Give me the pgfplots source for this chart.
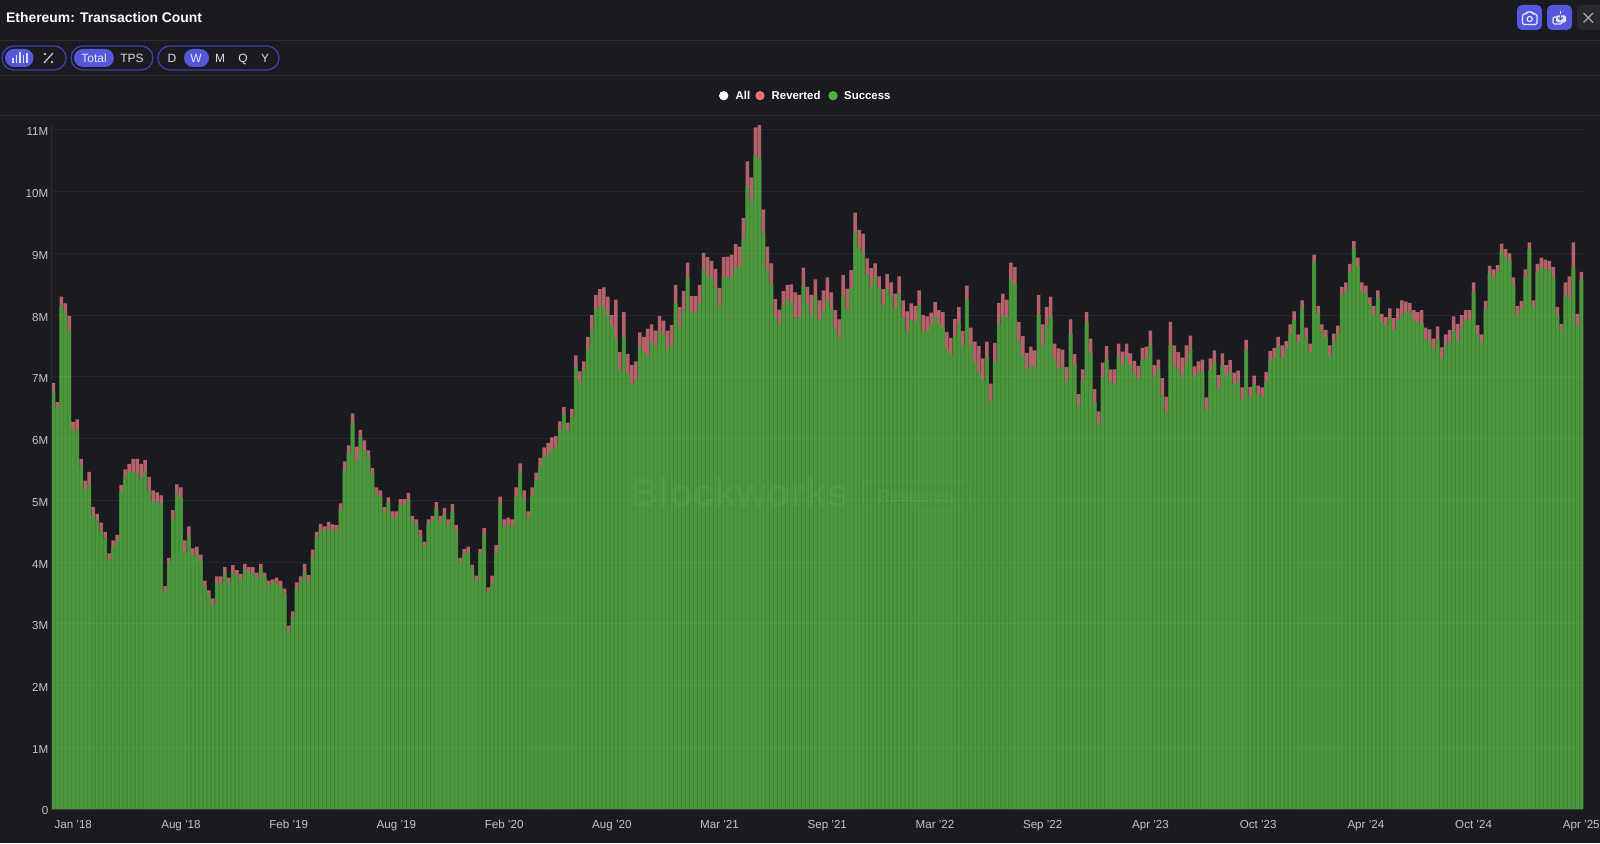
\documentclass[border=0pt]{standalone}
\usepackage{pgfplots}
\usepackage{pgfplotstable}
\usepackage{fontspec}
\setmainfont{Liberation Sans}
\pgfplotsset{compat=1.18}
\definecolor{bg}{HTML}{1A1B20}
\definecolor{rule}{HTML}{2B2C31}
\definecolor{barg}{HTML}{4A973C}
\definecolor{bargd}{HTML}{3E8033}
\definecolor{barr}{HTML}{B5616A}
\definecolor{lbl}{HTML}{C4C4C8}
\definecolor{accent}{HTML}{5558DD}
\definecolor{pillb}{HTML}{3F41A6}
\definecolor{legr}{HTML}{E87070}
\definecolor{legg}{HTML}{52B043}
\pgfplotstableread{
i total success
1 6.90 6.77
2 6.59 6.50
3 8.30 8.15
4 8.19 8.03
5 7.99 7.75
6 6.27 6.14
7 6.31 6.13
8 5.67 5.56
9 5.32 5.17
10 5.46 5.26
11 4.89 4.75
12 4.78 4.67
13 4.64 4.50
14 4.49 4.38
15 4.14 4.03
16 4.35 4.25
17 4.44 4.34
18 5.25 5.14
19 5.50 5.37
20 5.59 5.46
21 5.67 5.46
22 5.67 5.44
23 5.59 5.37
24 5.65 5.46
25 5.38 5.16
26 5.16 4.97
27 5.13 4.97
28 5.08 4.95
29 3.61 3.53
30 4.07 3.99
31 4.84 4.69
32 5.26 5.11
33 5.21 5.04
34 4.35 4.16
35 4.58 4.40
36 4.22 4.11
37 4.25 4.13
38 4.12 4.01
39 3.70 3.60
40 3.54 3.46
41 3.41 3.31
42 3.77 3.66
43 3.77 3.65
44 3.92 3.81
45 3.75 3.66
46 3.95 3.83
47 3.87 3.78
48 3.81 3.72
49 3.97 3.88
50 3.92 3.81
51 3.92 3.82
52 3.83 3.74
53 3.97 3.88
54 3.83 3.75
55 3.70 3.62
56 3.72 3.66
57 3.75 3.67
58 3.70 3.59
59 3.57 3.49
60 2.97 2.87
61 3.20 3.11
62 3.67 3.56
63 3.77 3.68
64 3.97 3.84
65 3.79 3.68
66 4.20 4.08
67 4.49 4.40
68 4.62 4.52
69 4.58 4.49
70 4.65 4.56
71 4.61 4.51
72 4.60 4.51
73 4.95 4.84
74 5.63 5.49
75 5.89 5.76
76 6.41 6.26
77 5.87 5.63
78 6.14 6.03
79 5.97 5.81
80 5.81 5.71
81 5.52 5.44
82 5.21 5.11
83 5.16 5.07
84 4.89 4.80
85 5.05 4.97
86 4.82 4.73
87 4.82 4.73
88 5.02 4.92
89 5.02 4.92
90 5.12 5.01
91 4.75 4.67
92 4.69 4.60
93 4.52 4.41
94 4.33 4.24
95 4.69 4.62
96 4.75 4.67
97 4.97 4.87
98 4.75 4.67
99 4.88 4.76
100 4.69 4.60
101 4.94 4.82
102 4.60 4.51
103 4.07 3.99
104 4.21 4.14
105 4.25 4.15
106 3.96 3.91
107 3.78 3.70
108 4.21 4.14
109 4.55 4.45
110 3.59 3.52
111 3.78 3.66
112 4.28 4.15
113 5.06 4.95
114 4.69 4.58
115 4.72 4.60
116 4.69 4.58
117 5.21 5.06
118 5.60 5.46
119 5.16 5.02
120 4.82 4.72
121 5.21 5.08
122 5.45 5.32
123 5.69 5.56
124 5.86 5.71
125 5.93 5.74
126 6.02 5.83
127 6.04 5.87
128 6.28 6.14
129 6.51 6.40
130 6.26 6.13
131 6.48 6.35
132 7.35 7.16
133 7.09 6.92
134 7.25 7.10
135 7.65 7.45
136 8.00 7.75
137 8.33 8.08
138 8.42 8.15
139 8.45 8.12
140 8.30 8.00
141 8.00 7.82
142 8.25 7.62
143 7.40 7.10
144 8.05 7.65
145 7.37 7.06
146 7.19 6.89
147 7.25 6.94
148 7.72 7.48
149 7.65 7.40
150 7.78 7.33
151 7.85 7.58
152 7.75 7.49
153 7.99 7.73
154 7.91 7.68
155 7.75 7.45
156 7.84 7.52
157 8.49 8.19
158 8.13 7.82
159 8.39 8.09
160 8.85 8.60
161 8.31 8.05
162 8.31 8.03
163 8.49 8.20
164 9.01 8.74
165 8.94 8.64
166 8.88 8.61
167 8.75 8.45
168 8.44 8.14
169 8.94 8.61
170 8.95 8.61
171 8.98 8.61
172 9.15 8.78
173 9.11 8.78
174 9.57 9.24
175 10.49 10.09
176 10.23 9.85
177 11.04 10.59
178 11.08 10.54
179 9.71 9.32
180 9.11 8.75
181 8.84 8.49
182 8.26 7.97
183 8.09 7.86
184 8.39 8.16
185 8.49 8.25
186 8.50 8.21
187 8.37 7.96
188 8.33 7.96
189 8.77 8.47
190 8.46 8.19
191 8.33 8.00
192 8.58 8.31
193 8.24 7.92
194 8.40 8.05
195 8.61 8.25
196 8.37 8.11
197 8.08 7.78
198 7.93 7.62
199 8.65 8.32
200 8.43 8.09
201 8.73 8.44
202 9.66 9.34
203 9.38 9.10
204 9.32 9.00
205 8.92 8.66
206 8.76 8.47
207 8.84 8.61
208 8.63 8.42
209 8.42 8.16
210 8.67 8.42
211 8.53 8.30
212 8.35 8.11
213 8.63 8.35
214 8.24 7.96
215 8.06 7.73
216 8.19 7.92
217 8.15 7.89
218 8.40 8.15
219 8.00 7.74
220 7.98 7.74
221 8.04 7.84
222 8.21 7.99
223 8.08 7.87
224 8.05 7.79
225 7.73 7.45
226 7.63 7.36
227 7.94 7.66
228 8.13 7.88
229 7.74 7.50
230 8.48 8.25
231 7.80 7.51
232 7.57 7.24
233 7.50 7.08
234 7.30 6.95
235 7.57 7.32
236 6.89 6.60
237 7.55 7.24
238 8.20 7.85
239 8.35 8.00
240 8.25 7.97
241 8.85 8.57
242 8.78 8.49
243 7.89 7.58
244 7.66 7.34
245 7.39 7.12
246 7.49 7.19
247 7.43 7.16
248 8.33 8.01
249 7.85 7.51
250 8.13 7.83
251 8.30 7.97
252 7.54 7.29
253 7.46 7.13
254 7.44 7.17
255 7.16 6.93
256 7.93 7.69
257 7.37 7.19
258 6.72 6.54
259 7.12 6.93
260 8.05 7.87
261 7.62 7.39
262 6.80 6.59
263 6.44 6.23
264 7.23 6.99
265 7.50 7.28
266 7.12 6.91
267 7.12 6.89
268 7.54 7.33
269 7.41 7.19
270 7.54 7.32
271 7.38 7.19
272 7.26 7.05
273 7.18 6.96
274 7.47 7.27
275 7.49 7.31
276 7.75 7.51
277 7.19 7.01
278 7.28 7.12
279 6.98 6.68
280 6.68 6.42
281 7.89 7.51
282 7.51 7.17
283 7.40 7.12
284 7.31 7.02
285 7.51 7.23
286 7.67 7.44
287 7.17 7.00
288 7.25 7.07
289 7.28 7.08
290 6.67 6.46
291 7.30 7.11
292 7.43 7.22
293 7.03 6.81
294 7.38 7.19
295 7.19 7.01
296 7.27 7.08
297 7.07 6.88
298 7.10 6.93
299 6.83 6.64
300 7.60 7.43
301 6.84 6.68
302 7.02 6.88
303 6.86 6.72
304 6.83 6.68
305 7.08 6.92
306 7.42 7.27
307 7.47 7.31
308 7.65 7.49
309 7.51 7.31
310 7.58 7.44
311 7.85 7.69
312 8.06 7.92
313 7.69 7.56
314 8.24 8.12
315 7.80 7.64
316 7.54 7.41
317 8.98 8.87
318 8.15 8.02
319 7.85 7.73
320 7.76 7.64
321 7.51 7.35
322 7.70 7.57
323 7.83 7.70
324 8.46 8.33
325 8.53 8.39
326 8.83 8.70
327 9.20 9.07
328 8.93 8.79
329 8.53 8.39
330 8.48 8.35
331 8.29 8.18
332 8.15 8.00
333 8.40 8.28
334 8.02 7.89
335 7.97 7.83
336 8.11 7.95
337 7.95 7.76
338 8.11 7.92
339 8.24 7.99
340 8.22 8.05
341 8.20 8.05
342 8.08 7.91
343 8.05 7.87
344 8.08 7.87
345 7.80 7.61
346 7.77 7.57
347 7.62 7.45
348 7.82 7.60
349 7.48 7.30
350 7.69 7.51
351 7.76 7.56
352 7.98 7.76
353 7.86 7.58
354 8.00 7.80
355 8.08 7.91
356 8.08 7.93
357 8.53 8.37
358 7.84 7.69
359 7.69 7.56
360 8.23 8.10
361 8.80 8.67
362 8.74 8.61
363 8.81 8.70
364 9.16 9.02
365 9.07 8.93
366 9.00 8.89
367 8.61 8.49
368 8.15 8.00
369 8.23 8.10
370 8.74 8.61
371 9.18 9.07
372 8.24 8.13
373 8.83 8.70
374 8.93 8.78
375 8.90 8.74
376 8.88 8.74
377 8.78 8.61
378 8.13 8.00
379 7.86 7.76
380 8.53 8.33
381 8.63 8.28
382 9.18 8.77
383 8.02 7.82
384 8.70 8.57
}\weekly
\begin{document}
\begin{tikzpicture}
\useasboundingbox (0pt,0pt) rectangle (1600pt,843pt);
\fill[bg] (0pt,0pt) rectangle (1600pt,843pt);
\begin{axis}[
  at={(51.3pt,34pt)}, anchor=south west,
  scale only axis, width=1532pt, height=685.2pt,
  xmin=0.5, xmax=384.5, ymin=0, ymax=11.1,
  axis x line*=bottom, axis y line*=left,
  x axis line style={draw=none,-},
  y axis line style={draw=rule,-},
  axis on top,
  xtick={6,33,60,87,114,141,168,195,222,249,276,303,330,357,384},
  xticklabels={Jan '18,Aug '18,Feb '19,Aug '19,Feb '20,Aug '20,Mar '21,Sep '21,Mar '22,Sep '22,Apr '23,Oct '23,Apr '24,Oct '24,Apr '25},
  ytick={0,1,2,3,4,5,6,7,8,9,10,11},
  yticklabels={0,1M,2M,3M,4M,5M,6M,7M,8M,9M,10M,11M},
  major tick length=0pt,
  ymajorgrids,
  grid style={draw=white,opacity=0.05,line width=1pt},
  ticklabel style={font=\fontsize{11.6}{14}\selectfont, text=lbl},
  yticklabel style={xshift=0.5pt,yshift=-2pt},
  xticklabel style={yshift=-8pt},
]
\addplot[ybar, fill=barr, draw=none, bar width=3.5pt, bar shift=0pt] table[x=i,y=total]{\weekly};
\addplot[ybar, fill=bargd, draw=none, bar width=3.99pt, bar shift=0pt] table[x=i,y=success]{\weekly};
\addplot[ybar, fill=barg, draw=none, bar width=3.1pt, bar shift=0pt] table[x=i,y=success]{\weekly};
\end{axis}
\begin{scope}[shift={(0pt,843pt)},x=1pt,y=-1pt]
\clip (0,0) rectangle (1600,843);
% watermark
\node[anchor=west,inner sep=0pt,text=white,text opacity=0.05,font=\fontsize{39}{46}\bfseries\selectfont] at (630,493) {Blockworks};
\draw[white,opacity=0.05,rounded corners=6pt,line width=1pt] (863,481) rectangle (970,510);
\node[anchor=center,inner sep=0pt,text=white,text opacity=0.05,font=\fontsize{17}{20}\bfseries\selectfont] at (916,496) {Research};
% rules
\foreach \yy in {40.5,75.5,115.5} \draw[rule,line width=1pt] (0,\yy)--(1600,\yy);
% title
\node[anchor=base west,inner sep=0pt,text=white,font=\fontsize{13.9}{17}\bfseries\selectfont] at (6,22.5) {Ethereum: Transaction Count};
% pills
\draw[pillb,line width=1.3pt,rounded corners=12pt] (2,46) rectangle (66,70);
\fill[accent,rounded corners=9pt] (5,49) rectangle (33.5,67);
\foreach \xx/\h in {13/5,16.5/8,20/11,23.5/8,27/10} \draw[white!80!accent,line width=1.2pt] (\xx,63)--(\xx,63-\h);
\draw[lbl,line width=1.3pt] (44,63)--(53,53);
\fill[lbl] (45,54) circle (1.4) (52,62) circle (1.4);
\draw[pillb,line width=1.3pt,rounded corners=12pt] (71,46) rectangle (153,70);
\fill[accent,rounded corners=9pt] (74,49) rectangle (114,67);
\draw[pillb,line width=1.3pt,rounded corners=12pt] (158,46) rectangle (279,70);
\fill[accent,rounded corners=9pt] (184,49) rectangle (209,67);
\tikzset{ui/.style={anchor=base,inner sep=0pt,font=\fontsize{12}{14}\selectfont}}
\node[ui,text=white!85!accent] at (94,63) {Total};
\node[ui,text=white!85!bg] at (132,63) {TPS};
\node[ui,text=white!85!bg] at (172,63) {D};
\node[ui,text=white!85!accent] at (196,63) {W};
\node[ui,text=white!85!bg] at (220,63) {M};
\node[ui,text=white!85!bg] at (243,63) {Q};
\node[ui,text=white!85!bg] at (265,63) {Y};
% top-right buttons
\fill[accent,rounded corners=5pt] (1517,5) rectangle (1542,30);
\fill[accent,rounded corners=5pt] (1547,5) rectangle (1572,30);
\fill[white!6!bg,rounded corners=5pt] (1577,5) rectangle (1606,30);
\draw[white!85!accent,line width=1.2pt,rounded corners=1.5pt] (1522.5,14)--(1526,14)--(1527,12)--(1532,12)--(1533,14)--(1537,14)--(1537,24.5)--(1522.5,24.5)--cycle;
\draw[white!85!accent,line width=1.2pt] (1529.7,19) circle (2.6);
\draw[white!85!accent,line width=1.3pt,rounded corners=1.5pt] (1557,17)--(1553,17)--(1553,24)--(1562,24)--(1562,22);
\fill[white!85!accent,rounded corners=1.5pt] (1556,15.5) rectangle (1566,22.5);
\draw[accent,line width=1.2pt] (1560.5,14)--(1560.5,19.5) (1558.2,17.5)--(1560.5,19.8)--(1562.8,17.5);
\draw[white!85!accent,line width=1.4pt] (1560.5,11.5)--(1560.5,14.5);
\draw[lbl!85!bg,line width=1.3pt] (1583.5,13)--(1593,22.5) (1593,13)--(1583.5,22.5);
% legend
\fill[white] (723.7,95.7) circle (4.7);
\fill[legr] (760,95.7) circle (4.7);
\fill[legg] (833,95.7) circle (4.7);
\tikzset{lg/.style={anchor=base west,inner sep=0pt,text=white,font=\fontsize{11.4}{14}\bfseries\selectfont}}
\node[lg] at (735.5,100) {All};
\node[lg] at (771.5,100) {Reverted};
\node[lg] at (844,100) {Success};
\end{scope}
\end{tikzpicture}
\end{document}
